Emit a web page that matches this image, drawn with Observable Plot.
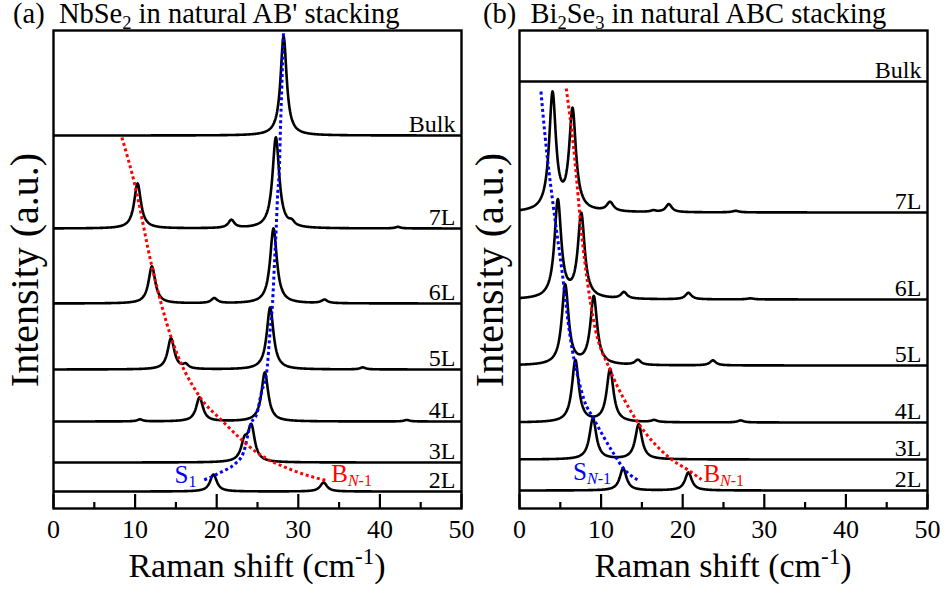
<!DOCTYPE html>
<html><head><meta charset="utf-8">
<script src="https://cdn.jsdelivr.net/npm/d3@7"></script>
<script src="https://cdn.jsdelivr.net/npm/@observablehq/plot@0.6"></script>
<style>
html,body{margin:0;padding:0;background:#fff;}
#wrap{position:relative;width:947px;height:594px;overflow:hidden;background:#fff;}
#wrap svg{position:absolute;top:0;}
</style></head><body><div id="wrap"></div>
<script>
const FONT = "'Liberation Serif', 'Times New Roman', Times, serif";

// ---------- shared axis ticks ----------
const majorTicks = [0, 10, 20, 30, 40, 50];
const minorTicks = [5, 15, 25, 35, 45];

// ---------- Panel (a): NbSe2 ----------
const layersA = ["2L", "3L", "4L", "5L", "6L", "7L", "Bulk"];
const offsetsA = [17, 46, 87, 139, 205, 280, 373];
// peaks: [position (cm-1), height (a.u.), half width (cm-1)]
const peaksA = [
  [[19.6, 17, 0.5], [33.1, 9, 0.5]],
  [[23.4, 18, 0.5], [24.25, 34, 0.5]],
  [[10.6, 2, 0.4], [17.9, 24, 0.5], [25.9, 49, 0.5], [43.3, 1.5, 0.4]],
  [[14.4, 31, 0.5], [16.2, 4, 0.4], [26.55, 62, 0.5], [37.9, 2, 0.4]],
  [[12.06, 37, 0.5], [19.7, 5, 0.45], [26.96, 75, 0.5], [33.2, 3.5, 0.45]],
  [[10.3, 45, 0.5], [21.8, 8, 0.45], [27.25, 91, 0.5], [29.2, 4, 0.4], [42.2, 1.5, 0.4]],
  [[28.2, 99, 0.45]]
];
const blueAx = [18.47, 19.2, 20.2, 21.2, 22.3, 23.28, 24.19, 24.93, 25.54, 25.94, 26.15, 26.55, 26.84, 27.08, 27.29, 27.45, 27.70, 27.79, 27.99, 28.19];
const blueAy = [28.7, 31, 35, 39, 45, 56, 85, 95, 118, 128, 138, 178, 205, 245, 280, 311, 345, 373, 425, 478];
const redAx = [8.38, 9.93, 12.06, 14.42, 17.89, 20.64, 24.93, 29.38, 33.4];
const redAy = [371, 325, 242, 171, 112, 88, 56, 38, 28];

// ---------- Panel (b): Bi2Se3 ----------
const layersB = ["2L", "3L", "4L", "5L", "6L", "7L", "Bulk"];
const offsetsB = [18, 49, 86, 143, 209, 296, 427];
const peaksB = [
  [[12.7, 22, 0.5], [20.7, 18, 0.5]],
  [[9.0, 41, 0.5], [14.6, 35, 0.5]],
  [[6.85, 62, 0.5], [11.1, 53, 0.5], [16.5, 2, 0.45], [27.1, 2, 0.45]],
  [[5.6, 80, 0.5], [9.1, 68, 0.5], [14.5, 5, 0.45], [23.7, 5, 0.45]],
  [[4.7, 98, 0.5], [7.57, 84, 0.5], [12.8, 6.5, 0.45], [20.7, 6.5, 0.45], [28.3, 1, 0.5]],
  [[4.05, 117, 0.5], [6.5, 100, 0.5], [11.1, 9, 0.5], [16.4, 1.5, 0.4], [18.3, 8, 0.45], [26.5, 1.5, 0.5]],
  []
];
const blueBx = [2.63, 3.15, 4.10, 5.20, 6.22, 7.26, 7.94, 9.08, 11.53, 12.76, 14.60];
const blueBy = [417, 371, 305, 238, 171, 128, 108, 90, 55, 40, 28];
const redBx = [5.73, 6.63, 7.66, 9.08, 11.13, 12.76, 14.60, 18.49, 20.74, 22.3];
const redBy = [420, 361, 271, 188, 138, 110, 85, 50, 38, 29];

function lorentz(peaks, x) {
  return peaks.reduce((s, [x0, h, g]) => s + h * g * g / ((x - x0) ** 2 + g * g), 0);
}
const grid = d3.range(0, 50.0001, 0.05);

function rich(sel, x, y, parts, o) {
  const t = sel.append("text")
    .attr("x", x).attr("y", y)
    .attr("font-size", o.size)
    .attr("fill", o.fill || "black")
    .attr("text-anchor", o.anchor || "start")
    .style("font-family", FONT)
    .style("white-space", "pre");
  if (o.transform) t.attr("transform", o.transform);
  let shift = 0;
  for (const p of parts) {
    const s = typeof p === "string" ? {t: p} : p;
    const target = s.sub ? o.subDy : s.sup ? -o.supDy : 0;
    const ts = t.append("tspan").text(s.t).attr("dy", target - shift);
    if (s.sub || s.sup) ts.attr("font-size", o.subSize);
    if (s.italic) ts.attr("font-style", "italic");
    shift = target;
  }
  return t;
}

function panel(c) {
  const spectra = c.layers.flatMap((name, i) =>
    grid.map(x => ({layer: name, x, y: c.offsets[i] + lorentz(c.peaks[i], x)})));
  const labels = c.layers.map((name, i) => ({name, y: c.offsets[i]}));
  const blue = c.blueX.map((x, i) => ({x, y: c.blueY[i]}));
  const red = c.redX.map((x, i) => ({x, y: c.redY[i]}));
  const dotted = {strokeWidth: 3, strokeDasharray: "3 2.8", strokeLinecap: "butt", curve: "monotone-x", clip: true};
  const svg = Plot.plot({
    width: c.width, height: 594,
    marginLeft: c.ml, marginRight: c.mr, marginTop: 30, marginBottom: 86,
    style: {fontFamily: FONT, fontSize: "26px", background: "transparent", overflow: "visible", color: "black"},
    x: {domain: [0, 50], ticks: majorTicks, tickSize: 0, tickPadding: 11, label: null},
    y: {domain: [0, 478], axis: null},
    marks: [
      Plot.ruleX(majorTicks, {y1: 0, y2: 14, stroke: "black", strokeWidth: 2.2}),
      Plot.ruleX(minorTicks, {y1: 0, y2: 6, stroke: "black", strokeWidth: 2.2}),
      Plot.line(spectra, {x: "x", y: "y", z: "layer", stroke: "black", strokeWidth: 2.6, clip: true}),
      Plot.line(blue, {x: "x", y: "y", stroke: "#0000ff", ...dotted}),
      Plot.line(red, {x: "x", y: "y", stroke: "#ff0000", ...dotted}),
      Plot.text(labels, {frameAnchor: "right", y: "y", text: "name", textAnchor: "end", lineAnchor: "bottom", dx: -6, dy: -4, fontSize: 24, fill: "black"}),
      Plot.frame({stroke: "black", strokeWidth: 2.4})
    ]
  });
  svg.style.left = c.left + "px";
  const sx = svg.scale("x"), sy = svg.scale("y");
  const g = d3.select(svg);
  // panel title
  rich(g, c.titleX, 23, c.title, {size: 28.5, subSize: 18.5, subDy: 6});
  // x axis title
  const cx = (c.ml + c.width - c.mr) / 2;
  rich(g, cx, 577, ["Raman shift (cm", {t: "-1", sup: true}, ")"], {size: 34, subSize: 23, supDy: 13, anchor: "middle"});
  // y axis title
  rich(g, 0, 0, ["Intensity (a.u.)"], {size: 40, anchor: "middle", transform: `translate(${c.yLabelX},270) rotate(-90)`});
  // guide-line labels
  for (const L of c.notes) {
    rich(g, sx.apply(L.x), sy.apply(L.y), L.parts, {size: 25, subSize: 16, subDy: 4, fill: L.fill});
  }
  document.getElementById("wrap").appendChild(svg);
}

panel({
  left: 0, width: 473, ml: 53, mr: 12, titleX: 13, yLabelX: 38,
  layers: layersA, offsets: offsetsA, peaks: peaksA,
  blueX: blueAx, blueY: blueAy, redX: redAx, redY: redAy,
  title: ["(a)  NbSe", {t: "2", sub: true}, " in natural AB' stacking"],
  notes: [
    {x: 14.9, y: 25, fill: "#0000ff", parts: ["S", {t: "1", sub: true}]},
    {x: 34.1, y: 26, fill: "#ff0000", parts: ["B", {t: "N", sub: true, italic: true}, {t: "-1", sub: true}]}
  ]
});
panel({
  left: 473, width: 474, ml: 46, mr: 20, titleX: 10, yLabelX: 30,
  layers: layersB, offsets: offsetsB, peaks: peaksB,
  blueX: blueBx, blueY: blueBy, redX: redBx, redY: redBy,
  title: ["(b)  Bi", {t: "2", sub: true}, "Se", {t: "3", sub: true}, " in natural ABC stacking"],
  notes: [
    {x: 6.63, y: 28, fill: "#0000ff", parts: ["S", {t: "N", sub: true, italic: true}, {t: "-1", sub: true}]},
    {x: 22.6, y: 26, fill: "#ff0000", parts: ["B", {t: "N", sub: true, italic: true}, {t: "-1", sub: true}]}
  ]
});
</script></body></html>
